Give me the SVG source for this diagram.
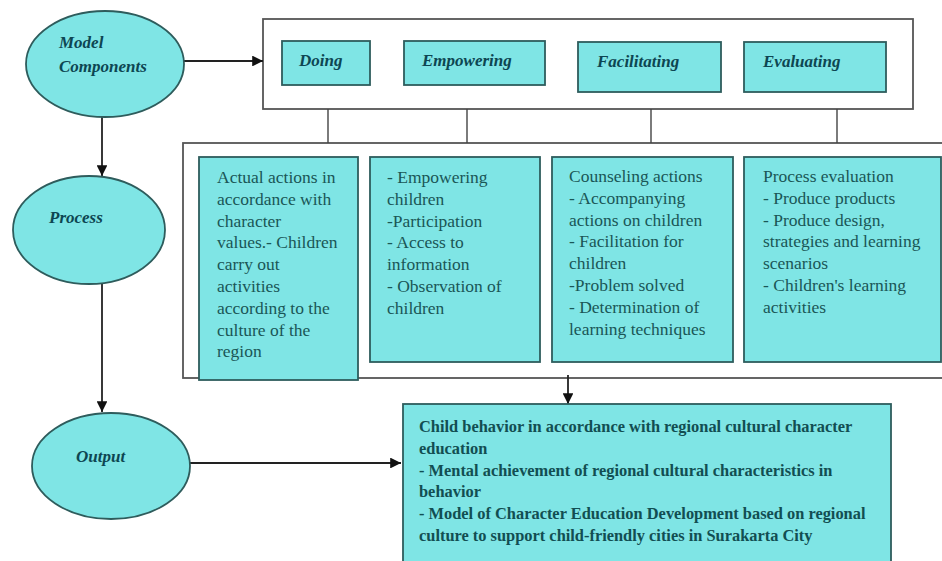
<svg xmlns="http://www.w3.org/2000/svg" width="942" height="561" viewBox="0 0 942 561">
<style>
.fill{fill:#7fe5e5;stroke:#2e5c5c;stroke-width:1.8}
.frame{fill:#ffffff;stroke:#555555;stroke-width:1.8}
.lbl{font-family:"Liberation Serif",serif;font-weight:bold;font-style:italic;font-size:17px;fill:#0d4652}
.body{font-family:"Liberation Serif",serif;font-size:17.5px;fill:#1a5656}
.out{font-family:"Liberation Serif",serif;font-weight:bold;font-size:16.4px;fill:#124e52}
.conn{stroke:#222222;stroke-width:1.8;fill:none}
.thin{stroke:#444444;stroke-width:1.4;fill:none}
</style>
<defs>
<marker id="arr" viewBox="0 0 10 10" refX="10" refY="5" markerWidth="6" markerHeight="6" orient="auto">
<path d="M0,0 L10,5 L0,10 Z" fill="#111111"/>
</marker>
</defs>
<rect width="942" height="561" fill="#ffffff"/>

<g id="top-frame">
<rect class="frame" x="263" y="19" width="650" height="90"/>
</g>
<g id="lower-frame">
<rect class="frame" x="183" y="143" width="770" height="235"/>
</g>

<g id="connectors">
<line class="conn" x1="184" y1="61" x2="263" y2="61" marker-end="url(#arr)"/>
<line class="conn" x1="102" y1="117" x2="102" y2="176" marker-end="url(#arr)"/>
<line class="conn" x1="102" y1="284" x2="102" y2="412" marker-end="url(#arr)"/>
<line class="conn" x1="190" y1="463" x2="401" y2="463" marker-end="url(#arr)"/>
<line class="conn" x1="568" y1="375" x2="568" y2="404" marker-end="url(#arr)"/>
<line class="thin" x1="328" y1="109" x2="328" y2="143"/>
<line class="thin" x1="467" y1="109" x2="467" y2="143"/>
<line class="thin" x1="651" y1="109" x2="651" y2="143"/>
<line class="thin" x1="837" y1="109" x2="837" y2="143"/>
</g>

<g id="model-components">
<ellipse class="fill" cx="105" cy="64" rx="79" ry="53"/>
<text class="lbl" x="59" y="48">Model</text>
<text class="lbl" x="59" y="72">Components</text>
</g>
<g id="process">
<ellipse class="fill" cx="89" cy="230" rx="76" ry="54"/>
<text class="lbl" x="49" y="223">Process</text>
</g>
<g id="output">
<ellipse class="fill" cx="111" cy="466" rx="79" ry="53"/>
<text class="lbl" x="76" y="462">Output</text>
</g>

<g id="doing">
<rect class="fill" x="282" y="41" width="88" height="44"/>
<text class="lbl" x="299" y="66">Doing</text>
</g>
<g id="empowering">
<rect class="fill" x="404" y="41" width="141" height="44"/>
<text class="lbl" x="422" y="66">Empowering</text>
</g>
<g id="facilitating">
<rect class="fill" x="578" y="42" width="143" height="50"/>
<text class="lbl" x="597" y="67">Facilitating</text>
</g>
<g id="evaluating">
<rect class="fill" x="744" y="42" width="142" height="50"/>
<text class="lbl" x="763" y="67">Evaluating</text>
</g>

<g id="doing-detail">
<rect class="fill" x="199" y="157" width="159" height="223"/>
<text class="body">
<tspan x="217" y="183">Actual actions in</tspan>
<tspan x="217" y="204.8">accordance with</tspan>
<tspan x="217" y="226.6">character</tspan>
<tspan x="217" y="248.4">values.- Children</tspan>
<tspan x="217" y="270.2">carry out</tspan>
<tspan x="217" y="292">activities</tspan>
<tspan x="217" y="313.8">according to the</tspan>
<tspan x="217" y="335.6">culture of the</tspan>
<tspan x="217" y="357.4">region</tspan>
</text>
</g>
<g id="empowering-detail">
<rect class="fill" x="370" y="157" width="170" height="205"/>
<text class="body">
<tspan x="387" y="183">- Empowering</tspan>
<tspan x="387" y="204.8">children</tspan>
<tspan x="387" y="226.6">-Participation</tspan>
<tspan x="387" y="248.4">- Access to</tspan>
<tspan x="387" y="270.2">information</tspan>
<tspan x="387" y="292">- Observation of</tspan>
<tspan x="387" y="313.8">children</tspan>
</text>
</g>
<g id="facilitating-detail">
<rect class="fill" x="552" y="157" width="181" height="205"/>
<text class="body">
<tspan x="569" y="182">Counseling actions</tspan>
<tspan x="569" y="203.8">- Accompanying</tspan>
<tspan x="569" y="225.6">actions on children</tspan>
<tspan x="569" y="247.4">- Facilitation for</tspan>
<tspan x="569" y="269.2">children</tspan>
<tspan x="569" y="291">-Problem solved</tspan>
<tspan x="569" y="312.8">- Determination of</tspan>
<tspan x="569" y="334.6">learning techniques</tspan>
</text>
</g>
<g id="evaluating-detail">
<rect class="fill" x="744" y="157" width="197" height="205"/>
<text class="body">
<tspan x="763" y="182">Process evaluation</tspan>
<tspan x="763" y="203.8">- Produce products</tspan>
<tspan x="763" y="225.6">- Produce design,</tspan>
<tspan x="763" y="247.4">strategies and learning</tspan>
<tspan x="763" y="269.2">scenarios</tspan>
<tspan x="763" y="291">- Children's learning</tspan>
<tspan x="763" y="312.8">activities</tspan>
</text>
</g>

<g id="output-detail">
<rect class="fill" x="403" y="404" width="488" height="160"/>
<text class="out">
<tspan x="419" y="432">Child behavior in accordance with regional cultural character</tspan>
<tspan x="419" y="453.8">education</tspan>
<tspan x="419" y="475.6">- Mental achievement of regional cultural characteristics in</tspan>
<tspan x="419" y="497.4">behavior</tspan>
<tspan x="419" y="519.2">- Model of Character Education Development based on regional</tspan>
<tspan x="419" y="541">culture to support child-friendly cities in Surakarta City</tspan>
</text>
</g>
</svg>
